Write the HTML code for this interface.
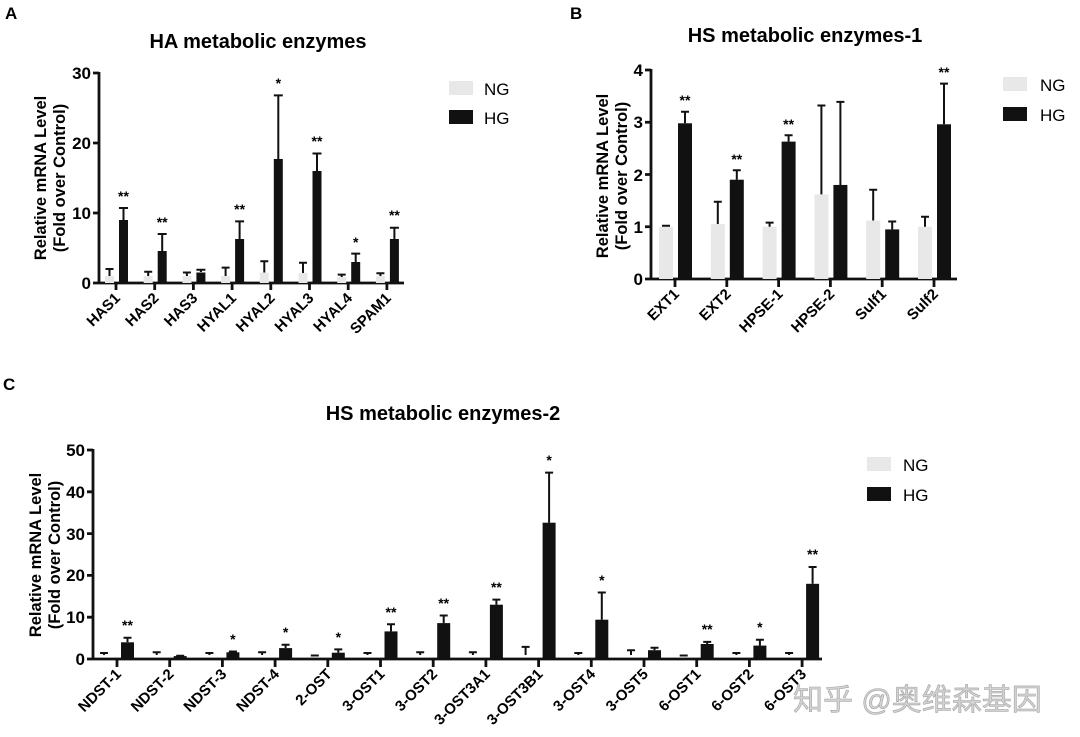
<!DOCTYPE html>
<html><head><meta charset="utf-8"><style>
html,body{margin:0;padding:0;background:#fff;}
svg{display:block;font-family:"Liberation Sans",Arial,sans-serif;}
.t{font-weight:bold;font-size:20px;text-anchor:middle;}
.yl{font-weight:bold;font-size:17px;text-anchor:end;}
.xl{font-weight:bold;font-size:15px;text-anchor:end;}
.ax{font-weight:bold;font-size:16.5px;text-anchor:middle;}
.st{font-weight:bold;font-size:14px;text-anchor:middle;}
.lg{font-size:17px;}
.ng{fill:#e8e8e8;}
.hg{fill:#111;}
.e{stroke:#111;stroke-width:2;fill:none;}
.a{stroke:#111;stroke-width:2.8;fill:none;}
</style></head><body>
<svg width="1080" height="737" viewBox="0 0 1080 737">
<text x="5" y="19" font-weight="bold" font-size="17">A</text>
<text x="570" y="19" font-weight="bold" font-size="17">B</text>
<text x="3" y="390" font-weight="bold" font-size="17">C</text>

<!-- ============ PANEL A ============ -->
<text class="t" x="258" y="48">HA metabolic enzymes</text>
<g transform="translate(46,178) rotate(-90)"><text class="ax" x="0" y="0">Relative mRNA Level</text><text class="ax" x="0" y="19">(Fold over Control)</text></g>
<path class="a" d="M99,72 V284 M99,283 H404"/>
<path class="a" d="M93,283 H99 M93,213 H99 M93,143 H99 M93,73 H99"/>
<text class="yl" x="91" y="289">0</text><text class="yl" x="91" y="219">10</text><text class="yl" x="91" y="149">20</text><text class="yl" x="91" y="79">30</text>
<path class="a" d="M116,283V290 M154.7,283V290 M193.4,283V290 M232.1,283V290 M270.8,283V290 M309.5,283V290 M348.2,283V290 M386.9,283V290"/>
<rect class="ng" x="105" y="276" width="9" height="7"/>
<rect class="ng" x="143.7" y="276" width="9" height="7"/>
<rect class="ng" x="182.4" y="276" width="9" height="7"/>
<rect class="ng" x="221.1" y="276" width="9" height="7"/>
<rect class="ng" x="259.8" y="272.5" width="9" height="10.5"/>
<rect class="ng" x="298.5" y="273" width="9" height="10"/>
<rect class="ng" x="337.2" y="277" width="9" height="6"/>
<rect class="ng" x="375.9" y="276" width="9" height="7"/>
<path class="e" d="M109.5,276V269 M105.5,269H113.5 M148.2,276V271.8 M144.2,271.8H152.2 M186.9,276V272.5 M182.9,272.5H190.9 M225.6,276V267.6 M221.6,267.6H229.6 M264.3,272.5V261.3 M260.3,261.3H268.3 M303,273V262.7 M299,262.7H307 M341.7,277V274.6 M337.7,274.6H345.7 M380.4,276V273.2 M376.4,273.2H384.4"/>
<rect class="hg" x="119" y="220" width="9" height="63"/>
<rect class="hg" x="157.7" y="251" width="9" height="32"/>
<rect class="hg" x="196.4" y="272.5" width="9" height="10.5"/>
<rect class="hg" x="235.1" y="239" width="9" height="44"/>
<rect class="hg" x="273.8" y="159" width="9" height="124"/>
<rect class="hg" x="312.5" y="171" width="9" height="112"/>
<rect class="hg" x="351.2" y="262" width="9" height="21"/>
<rect class="hg" x="389.9" y="239" width="9" height="44"/>
<path class="e" d="M123.5,220V208 M119,208H128 M162.2,251V234 M157.7,234H166.7 M200.9,272V269.7 M196.4,269.7H205.4 M239.6,239V221.4 M235.1,221.4H244.1 M278.3,159V95.4 M273.8,95.4H282.8 M317,171V153.5 M312.5,153.5H321.5 M355.7,262V253.6 M351.2,253.6H360.2 M394.4,239V227.7 M389.9,227.7H398.9"/>
<text class="st" x="123.5" y="201">**</text>
<text class="st" x="162.2" y="227">**</text>
<text class="st" x="239.6" y="214">**</text>
<text class="st" x="278.3" y="88">*</text>
<text class="st" x="317" y="146">**</text>
<text class="st" x="355.7" y="247">*</text>
<text class="st" x="394.4" y="220">**</text>
<g class="xl">
<text transform="translate(121,299) rotate(-45)">HAS1</text>
<text transform="translate(159.7,299) rotate(-45)">HAS2</text>
<text transform="translate(198.4,299) rotate(-45)">HAS3</text>
<text transform="translate(237.1,299) rotate(-45)">HYAL1</text>
<text transform="translate(275.8,299) rotate(-45)">HYAL2</text>
<text transform="translate(314.5,299) rotate(-45)">HYAL3</text>
<text transform="translate(353.2,299) rotate(-45)">HYAL4</text>
<text transform="translate(391.9,299) rotate(-45)">SPAM1</text>
</g>
<rect class="ng" x="449" y="81" width="24" height="14"/>
<rect class="hg" x="449" y="110" width="24" height="14"/>
<text class="lg" x="484" y="95">NG</text>
<text class="lg" x="484" y="124">HG</text>

<!-- ============ PANEL B ============ -->
<text class="t" x="805" y="42">HS metabolic enzymes-1</text>
<g transform="translate(608,176) rotate(-90)"><text class="ax" x="0" y="0">Relative mRNA Level</text><text class="ax" x="0" y="19">(Fold over Control)</text></g>
<path class="a" d="M651,69 V280 M651,279 H957"/>
<path class="a" d="M645,279H651 M645,226.75H651 M645,174.5H651 M645,122.25H651 M645,70H651"/>
<text class="yl" x="643" y="285">0</text><text class="yl" x="643" y="233">1</text><text class="yl" x="643" y="181">2</text><text class="yl" x="643" y="128">3</text><text class="yl" x="643" y="76">4</text>
<path class="a" d="M675,279V287 M726.8,279V287 M778.6,279V287 M830.4,279V287 M882.2,279V287 M934,279V287"/>
<rect class="ng" x="659" y="226.75" width="14" height="52.25"/>
<rect class="ng" x="710.8" y="224.1" width="14" height="54.9"/>
<rect class="ng" x="762.6" y="226.75" width="14" height="52.25"/>
<rect class="ng" x="814.4" y="194.4" width="14" height="84.6"/>
<rect class="ng" x="866.2" y="220.5" width="14" height="58.5"/>
<rect class="ng" x="918" y="226.75" width="14" height="52.25"/>
<path class="e" d="M666,226.75V225.7 M662,225.7H670 M717.8,224V201.7 M713.8,201.7H721.8 M769.6,226.75V222.6 M765.6,222.6H773.6 M821.4,194.4V105.5 M817.4,105.5H825.4 M873.2,220.5V189.7 M869.2,189.7H877.2 M925,226.75V216.8 M921,216.8H929"/>
<rect class="hg" x="678" y="123.3" width="14" height="155.7"/>
<rect class="hg" x="729.8" y="179.7" width="14" height="99.3"/>
<rect class="hg" x="781.6" y="141.6" width="14" height="137.4"/>
<rect class="hg" x="833.4" y="184.95" width="14" height="94.05"/>
<rect class="hg" x="885.2" y="229.4" width="14" height="49.6"/>
<rect class="hg" x="937" y="124.3" width="14" height="154.7"/>
<path class="e" d="M685,123.3V111.8 M681,111.8H689 M736.8,179.7V170.3 M732.8,170.3H740.8 M788.6,141.6V135.3 M784.6,135.3H792.6 M840.4,185V101.9 M836.4,101.9H844.4 M892.2,229.4V221.5 M888.2,221.5H896.2 M944,124.3V83.6 M940,83.6H948"/>
<text class="st" x="685" y="105">**</text>
<text class="st" x="736.8" y="164">**</text>
<text class="st" x="788.6" y="129">**</text>
<text class="st" x="944" y="77">**</text>
<g class="xl">
<text transform="translate(680,295) rotate(-45)">EXT1</text>
<text transform="translate(731.8,295) rotate(-45)">EXT2</text>
<text transform="translate(783.6,295) rotate(-45)">HPSE-1</text>
<text transform="translate(835.4,295) rotate(-45)">HPSE-2</text>
<text transform="translate(887.2,295) rotate(-45)">Sulf1</text>
<text transform="translate(939,295) rotate(-45)">Sulf2</text>
</g>
<rect class="ng" x="1003" y="77" width="24" height="14"/>
<rect class="hg" x="1003" y="107" width="24" height="14"/>
<text class="lg" x="1040" y="91">NG</text>
<text class="lg" x="1040" y="121">HG</text>

<!-- ============ PANEL C ============ -->
<text class="t" x="443" y="420">HS metabolic enzymes-2</text>
<g transform="translate(41,555) rotate(-90)"><text class="ax" x="0" y="0">Relative mRNA Level</text><text class="ax" x="0" y="19">(Fold over Control)</text></g>
<path class="a" d="M93,449 V660 M93,659 H822"/>
<path class="a" d="M87,659H93 M87,617.2H93 M87,575.4H93 M87,533.6H93 M87,491.8H93 M87,450H93"/>
<text class="yl" x="85" y="665">0</text><text class="yl" x="85" y="623">10</text><text class="yl" x="85" y="581">20</text><text class="yl" x="85" y="540">30</text><text class="yl" x="85" y="498">40</text><text class="yl" x="85" y="456">50</text>
<path class="a" d="M117,659V667 M169.7,659V667 M222.4,659V667 M275.1,659V667 M327.8,659V667 M380.5,659V667 M433.2,659V667 M485.9,659V667 M538.6,659V667 M591.3,659V667 M644,659V667 M696.7,659V667 M749.4,659V667 M802.1,659V667"/>
<path class="e" d="M104,655V653 M100,653H108 M156.7,655V652.3 M152.7,652.3H160.7 M209.4,655V653 M205.4,653H213.4 M262.1,655V652.3 M258.1,652.3H266.1 M310.8,655.5H318.8 M367.5,655V653 M363.5,653H371.5 M420.2,655V652.3 M416.2,652.3H424.2 M472.9,655V652.3 M468.9,652.3H476.9 M525.6,655V646.9 M521.6,646.9H529.6 M578.3,655V653 M574.3,653H582.3 M631,655V650.2 M627,650.2H635 M679.7,655.5H687.7 M736.4,655V653 M732.4,653H740.4 M789.1,655V653 M785.1,653H793.1"/>
<rect class="hg" x="121" y="642.3" width="13" height="16.7"/>
<rect class="hg" x="173.7" y="656.1" width="13" height="2.9"/>
<rect class="hg" x="226.4" y="652.3" width="13" height="6.7"/>
<rect class="hg" x="279.1" y="648.1" width="13" height="10.9"/>
<rect class="hg" x="331.8" y="652.7" width="13" height="6.3"/>
<rect class="hg" x="384.5" y="631.4" width="13" height="27.6"/>
<rect class="hg" x="437.2" y="623.1" width="13" height="35.9"/>
<rect class="hg" x="489.9" y="604.7" width="13" height="54.3"/>
<rect class="hg" x="542.6" y="522.7" width="13" height="136.3"/>
<rect class="hg" x="595.3" y="619.7" width="13" height="39.3"/>
<rect class="hg" x="648" y="650.2" width="13" height="8.8"/>
<rect class="hg" x="700.7" y="644" width="13" height="15"/>
<rect class="hg" x="753.4" y="645.6" width="13" height="13.4"/>
<rect class="hg" x="806.1" y="583.8" width="13" height="75.2"/>
<path class="e" d="M127.5,642.3V637.7 M123.5,637.7H131.5 M180.2,656V655.7 M176.2,655.7H184.2 M232.9,652V651.5 M228.9,651.5H236.9 M285.6,648V644.8 M281.6,644.8H289.6 M338.3,652.7V649.4 M334.3,649.4H342.3 M391,631.4V624.3 M387,624.3H395 M443.7,623.1V615.5 M439.7,615.5H447.7 M496.4,604.7V599.6 M492.4,599.6H500.4 M549.1,522.7V472.6 M545.1,472.6H553.1 M601.8,619.7V592.5 M597.8,592.5H605.8 M654.5,650.2V647.7 M650.5,647.7H658.5 M707.2,644V641.9 M703.2,641.9H711.2 M759.9,645.6V639.8 M755.9,639.8H763.9 M812.6,583.8V567 M808.6,567H816.6"/>
<text class="st" x="127.5" y="630">**</text>
<text class="st" x="232.9" y="644">*</text>
<text class="st" x="285.6" y="637">*</text>
<text class="st" x="338.3" y="642">*</text>
<text class="st" x="391" y="617">**</text>
<text class="st" x="443.7" y="608">**</text>
<text class="st" x="496.4" y="592">**</text>
<text class="st" x="549.1" y="465">*</text>
<text class="st" x="601.8" y="585">*</text>
<text class="st" x="707.2" y="634">**</text>
<text class="st" x="759.9" y="632">*</text>
<text class="st" x="812.6" y="559">**</text>
<g class="xl">
<text transform="translate(122,675) rotate(-45)">NDST-1</text>
<text transform="translate(174.7,675) rotate(-45)">NDST-2</text>
<text transform="translate(227.4,675) rotate(-45)">NDST-3</text>
<text transform="translate(280.1,675) rotate(-45)">NDST-4</text>
<text transform="translate(332.8,675) rotate(-45)">2-OST</text>
<text transform="translate(385.5,675) rotate(-45)">3-OST1</text>
<text transform="translate(438.2,675) rotate(-45)">3-OST2</text>
<text transform="translate(490.9,675) rotate(-45)">3-OST3A1</text>
<text transform="translate(543.6,675) rotate(-45)">3-OST3B1</text>
<text transform="translate(596.3,675) rotate(-45)">3-OST4</text>
<text transform="translate(649,675) rotate(-45)">3-OST5</text>
<text transform="translate(701.7,675) rotate(-45)">6-OST1</text>
<text transform="translate(754.4,675) rotate(-45)">6-OST2</text>
<text transform="translate(807.1,675) rotate(-45)">6-OST3</text>
</g>
<rect class="ng" x="867" y="457" width="24" height="14"/>
<rect class="hg" x="867" y="487" width="24" height="14"/>
<text class="lg" x="903" y="471">NG</text>
<text class="lg" x="903" y="501">HG</text>

<text x="793" y="710" font-family="'Liberation Sans','Noto Sans CJK SC',sans-serif" font-size="30" fill="#cfcfcf" stroke="#9a9a9a" stroke-width="0.6" opacity="0.9">知乎 @奥维森基因</text>
</svg>
</body></html>
